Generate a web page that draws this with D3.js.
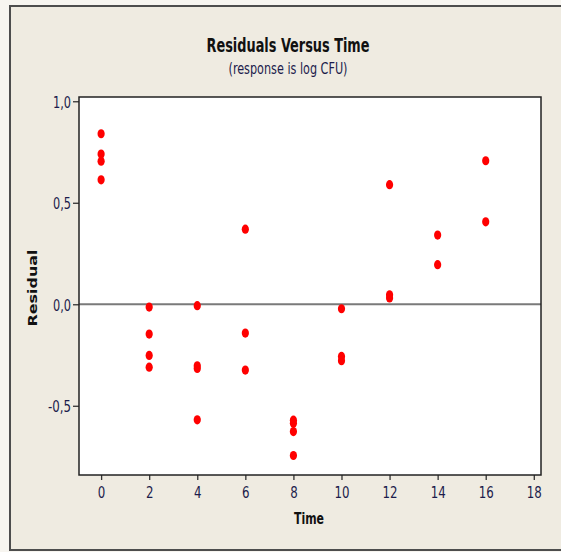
<!DOCTYPE html>
<html>
<head>
<meta charset="utf-8">
<script src="https://cdn.jsdelivr.net/npm/d3@7"></script>
<style>
  body { margin: 0; background: #f7f5f0; }
  svg { display: block; }
</style>
</head>
<body>
<div id="chart"></div>
<script>
// Data
var times = [0, 0, 0, 0,
             2, 2, 2, 2,
             4, 4, 4, 4,
             6, 6, 6,
             8, 8, 8, 8,
             10, 10, 10,
             12, 12, 12,
             14, 14,
             16, 16];
var residuals = [0.84, 0.74, 0.705, 0.613,
                 -0.014, -0.147, -0.252, -0.31,
                 -0.007, -0.303, -0.316, -0.569,
                 0.37, -0.142, -0.324,
                 -0.571, -0.586, -0.627, -0.745,
                 -0.022, -0.257, -0.278,
                 0.589, 0.047, 0.031,
                 0.341, 0.195,
                 0.707, 0.406];
var xTicks = [0, 2, 4, 6, 8, 10, 12, 14, 16, 18];
var yTicks = [-0.5, 0, 0.5, 1.0];

var width = 561;
var height = 552;

// plot frame (window.top is reserved, so prefixed names)
var plotLeft = 79, plotRight = 541, plotTop = 97, plotBottom = 475;

var svg = d3.select("#chart")
    .append("svg")
    .attr("width", width)
    .attr("height", height);

// outer panel
svg.append("rect")
    .attr("x", 10).attr("y", 6)
    .attr("width", 580).attr("height", 544)
    .attr("fill", "#efebe1")
    .attr("stroke", "#4d4d4d")
    .attr("stroke-width", 2);

// scales
var xScale = d3.scaleLinear()
    .domain([-0.92, 18.3])
    .range([plotLeft, plotRight]);

var yScale = d3.scaleLinear()
    .domain([-0.841, 1.021])
    .range([plotBottom, plotTop]);

// plot background
svg.append("rect")
    .attr("x", plotLeft).attr("y", plotTop)
    .attr("width", plotRight - plotLeft).attr("height", plotBottom - plotTop)
    .attr("fill", "#ffffff");

// zero reference line
svg.append("line")
    .attr("x1", plotLeft).attr("x2", plotRight)
    .attr("y1", yScale(0)).attr("y2", yScale(0))
    .attr("stroke", "#7a7a7a")
    .attr("stroke-width", 2);

// axes
var tickFont = "'DejaVu Sans Condensed', 'Liberation Sans Narrow', sans-serif";

var xAxis = d3.axisBottom(xScale)
    .tickValues(xTicks)
    .tickSize(5)
    .tickPadding(7)
    .tickFormat(d3.format("d"));

var yAxis = d3.axisLeft(yScale)
    .tickValues(yTicks)
    .tickSize(6)
    .tickPadding(2)
    .tickFormat(function(d) {
        // comma decimals and a plain hyphen for minus
        return d3.format(".1f")(d).replace(".", ",").replace("\u2212", "-");
    });

var gx = svg.append("g")
    .attr("transform", `translate(0, ${plotBottom})`)
    .call(xAxis);

var gy = svg.append("g")
    .attr("transform", `translate(${plotLeft}, 0)`)
    .call(yAxis);

[gx, gy].forEach(function(g) {
    g.select(".domain").remove();
    g.selectAll(".tick line").attr("stroke", "#333").attr("stroke-width", 1.3);
    g.selectAll(".tick text")
        .attr("fill", "#1c1c4c")
        .style("font-family", tickFont)
        .style("font-size", "16px");
});
gy.selectAll(".tick text").attr("dy", "0.36em");
// squeeze the digits horizontally like the narrow original font
gx.selectAll(".tick text").attr("transform", "scale(0.82,1)")
    .attr("x", 0);
gy.selectAll(".tick text").attr("textLength", function(d) { return d < 0 ? 23 : 18; })
    .attr("lengthAdjust", "spacingAndGlyphs");

// frame around plot
svg.append("rect")
    .attr("x", plotLeft).attr("y", plotTop)
    .attr("width", plotRight - plotLeft).attr("height", plotBottom - plotTop)
    .attr("fill", "none")
    .attr("stroke", "#222")
    .attr("stroke-width", 1.5);

// points
svg.selectAll("ellipse.pt")
    .data(times)
    .enter()
    .append("ellipse")
    .attr("class", "pt")
    .attr("cx", function(d) { return xScale(d); })
    .attr("cy", function(d, i) { return yScale(residuals[i]); })
    .attr("rx", 3.6)
    .attr("ry", 4.6)
    .attr("fill", "#ff0000");

// titles
svg.append("text")
    .attr("x", 288).attr("y", 52)
    .attr("text-anchor", "middle")
    .style("font-family", tickFont)
    .style("font-weight", "bold")
    .style("font-size", "20px")
    .attr("textLength", 163)
    .attr("lengthAdjust", "spacingAndGlyphs")
    .attr("fill", "#111")
    .text("Residuals Versus Time");

svg.append("text")
    .attr("x", 288).attr("y", 74)
    .attr("text-anchor", "middle")
    .style("font-family", tickFont)
    .style("font-size", "15px")
    .attr("textLength", 119)
    .attr("lengthAdjust", "spacingAndGlyphs")
    .attr("fill", "#1c1c4c")
    .text("(response is log CFU)");

// axis labels
svg.append("text")
    .attr("x", 309).attr("y", 524)
    .attr("text-anchor", "middle")
    .style("font-family", tickFont)
    .style("font-weight", "bold")
    .style("font-size", "16px")
    .attr("textLength", 30)
    .attr("lengthAdjust", "spacingAndGlyphs")
    .attr("fill", "#111")
    .text("Time");

svg.append("text")
    .attr("transform", "translate(37, 288) rotate(-90)")
    .attr("text-anchor", "middle")
    .style("font-family", "'DejaVu Sans', Verdana, sans-serif")
    .style("font-weight", "bold")
    .style("font-size", "13px")
    .attr("textLength", 77)
    .attr("lengthAdjust", "spacingAndGlyphs")
    .attr("fill", "#111")
    .text("Residual");
</script>
</body>
</html>
